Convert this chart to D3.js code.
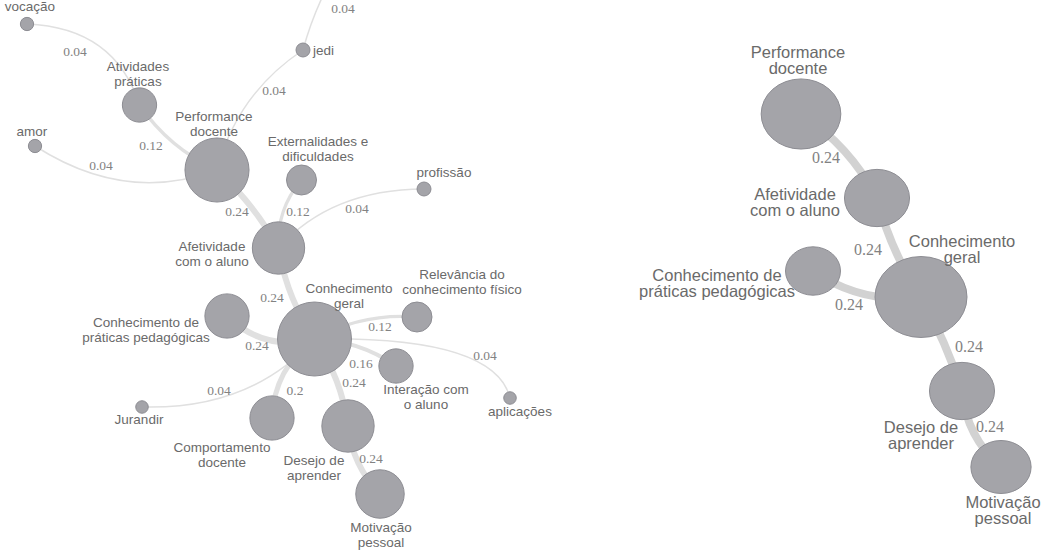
<!DOCTYPE html>
<html>
<head>
<meta charset="utf-8">
<script src="https://cdn.jsdelivr.net/npm/d3@7"></script>
<style>
    body { margin: 0; background: #fff; }
    svg { display: block; }
    .node-label { font-family: "Liberation Sans", Arial, sans-serif; fill: #6a6a6a; }
    .edge-label { font-family: "Liberation Serif", "Times New Roman", serif; fill: #828282; }
</style>
</head>
<body>
<svg id="chart" width="1051" height="553"></svg>
<script>
"use strict";

// Left tree: every word of the corpus
const leftNames = [
    "vocação", "Atividades práticas", "amor", "Performance docente", "jedi", "…",
    "Externalidades e dificuldades", "profissão", "Afetividade com o aluno",
    "Conhecimento geral", "Conhecimento de práticas pedagógicas",
    "Relevância do conhecimento físico", "Interação com o aluno", "aplicações",
    "Jurandir", "Comportamento docente", "Desejo de aprender", "Motivação pessoal"
];
const leftFreq = [0.9, 6, 0.9, 21, 1, 1, 4.6, 1, 14, 28, 10, 4.6, 6, 0.8, 0.8, 10, 14, 12];

const leftSource = [
    "vocação", "Atividades práticas", "amor", "jedi", "…", "Performance docente",
    "Externalidades e dificuldades", "profissão", "Afetividade com o aluno",
    "Conhecimento de práticas pedagógicas", "Relevância do conhecimento físico",
    "Interação com o aluno", "aplicações", "Jurandir", "Comportamento docente",
    "Desejo de aprender", "Motivação pessoal"
];
const leftTarget = [
    "Atividades práticas", "Performance docente", "Performance docente", "Performance docente",
    "jedi", "Afetividade com o aluno", "Afetividade com o aluno", "Afetividade com o aluno",
    "Conhecimento geral", "Conhecimento geral", "Conhecimento geral", "Conhecimento geral",
    "Conhecimento geral", "Conhecimento geral", "Conhecimento geral", "Conhecimento geral",
    "Desejo de aprender"
];
const leftWeight = [0.04, 0.12, 0.04, 0.04, 0.04, 0.24, 0.12, 0.04, 0.24, 0.24, 0.12, 0.16, 0.04, 0.04, 0.2, 0.24, 0.24];

// Right tree: strongest links only
const rightNames = [
    "Performance docente", "Afetividade com o aluno", "Conhecimento geral",
    "Conhecimento de práticas pedagógicas", "Desejo de aprender", "Motivação pessoal"
];
const rightFreq = [21, 14, 28, 10, 14, 12];

const rightSource = [
    "Performance docente", "Afetividade com o aluno", "Conhecimento de práticas pedagógicas",
    "Conhecimento geral", "Desejo de aprender"
];
const rightTarget = [
    "Afetividade com o aluno", "Conhecimento geral", "Conhecimento geral",
    "Desejo de aprender", "Motivação pessoal"
];
const rightWeight = [0.24, 0.24, 0.24, 0.24, 0.24];

// Layout: node centre, label baseline, words on the first label line
// ("…" is the node cut off above the picture, it has no visible label)
const LEFT_LAYOUT = {
    "vocação": { x: 27, y: 24, lx: 30, ly: 11, split: 1 },
    "Atividades práticas": { x: 139.5, y: 105, lx: 138, ly: 71, split: 1 },
    "amor": { x: 35, y: 146, lx: 32, ly: 136, split: 1 },
    "Performance docente": { x: 217, y: 170, lx: 214, ly: 121, split: 1 },
    "jedi": { x: 303, y: 50, lx: 313, ly: 55, split: 1, anchor: "start" },
    "…": { x: 332, y: -22, hidden: true },
    "Externalidades e dificuldades": { x: 301.5, y: 180, lx: 318, ly: 146, split: 2 },
    "profissão": { x: 424, y: 189, lx: 444, ly: 177, split: 1 },
    "Afetividade com o aluno": { x: 278.5, y: 248, lx: 212, ly: 251, split: 1 },
    "Conhecimento geral": { x: 314.5, y: 339, lx: 349, ly: 293, split: 1 },
    "Conhecimento de práticas pedagógicas": { x: 227, y: 316, lx: 146, ly: 327, split: 2 },
    "Relevância do conhecimento físico": { x: 417, y: 317, lx: 462, ly: 279, split: 2 },
    "Interação com o aluno": { x: 396, y: 366, lx: 426, ly: 394, split: 2 },
    "aplicações": { x: 510, y: 398, lx: 520, ly: 416, split: 1 },
    "Jurandir": { x: 142, y: 407, lx: 139, ly: 424, split: 1 },
    "Comportamento docente": { x: 272, y: 418, lx: 222, ly: 452, split: 1 },
    "Desejo de aprender": { x: 348, y: 426, lx: 314, ly: 465, split: 2 },
    "Motivação pessoal": { x: 380, y: 494, lx: 381, ly: 532, split: 1 }
};
// per edge (same order as the data): bend across, skew along, label position
const LEFT_EDGE_LAYOUT = [
    { bend: -0.35, skew: 0.03, lx: 75, ly: 56 },
    { bend: 0.14, skew: 0, lx: 151, ly: 150 },
    { bend: 0.25, skew: 0.03, lx: 101, ly: 170 },
    { bend: 0.19, skew: 0, lx: 274, ly: 95 },
    { bend: 0.06, skew: 0, lx: 343, ly: 13 },
    { bend: -0.08, skew: 0, lx: 237, ly: 216 },
    { bend: 0.2, skew: 0, lx: 298, ly: 216 },
    { bend: 0.22, skew: 0.05, lx: 357, ly: 213 },
    { bend: 0.11, skew: 0, lx: 272, ly: 302 },
    { bend: 0.28, skew: 0, lx: 257, ly: 350 },
    { bend: 0.15, skew: 0, lx: 380, ly: 331 },
    { bend: 0.15, skew: 0, lx: 361, ly: 368 },
    { bend: 0.27, skew: -0.34, lx: 485, ly: 360 },
    { bend: 0.23, skew: 0.04, lx: 219, ly: 395 },
    { bend: -0.24, skew: 0, lx: 295, ly: 395 },
    { bend: 0.12, skew: 0, lx: 354, ly: 387 },
    { bend: -0.17, skew: 0, lx: 371, ly: 463 }
];

const RIGHT_LAYOUT = {
    "Performance docente": { x: 801, y: 114, lx: 798, ly: 58, split: 1 },
    "Afetividade com o aluno": { x: 877, y: 198, lx: 795, ly: 200, split: 1 },
    "Conhecimento geral": { x: 921, y: 297, lx: 962, ly: 247, split: 1 },
    "Conhecimento de práticas pedagógicas": { x: 813, y: 271, lx: 717, ly: 281, split: 2 },
    "Desejo de aprender": { x: 962, y: 391, lx: 921, ly: 433, split: 2 },
    "Motivação pessoal": { x: 1001, y: 467, lx: 1003, ly: 508, split: 1 }
};
const RIGHT_EDGE_LAYOUT = [
    { bend: -0.13, skew: 0, lx: 826, ly: 163 },
    { bend: 0.085, skew: 0, lx: 868, ly: 255 },
    { bend: 0.19, skew: 0, lx: 849, ly: 310 },
    { bend: -0.05, skew: 0, lx: 969, ly: 352 },
    { bend: 0.2, skew: 0, lx: 990, ly: 432 }
];

const svg = d3.select("#chart");

renderTree(svg.append("g").classed("left-tree", true), {
    names: leftNames, freq: leftFreq,
    source: leftSource, target: leftTarget, weight: leftWeight,
    layout: LEFT_LAYOUT, edgeLayout: LEFT_EDGE_LAYOUT,
    maxRadius: 37, aspect: 1,
    width: d3.scaleLinear().domain([0.04, 0.24]).range([1.5, 6]),
    edgeColor: "#e0e0e0",
    labelSize: 13.5, lineHeight: 15, edgeLabelSize: 13.5
});

renderTree(svg.append("g").classed("right-tree", true), {
    names: rightNames, freq: rightFreq,
    source: rightSource, target: rightTarget, weight: rightWeight,
    layout: RIGHT_LAYOUT, edgeLayout: RIGHT_EDGE_LAYOUT,
    maxRadius: 46, aspect: 0.88,
    width: d3.scaleLinear().domain([0, 0.24]).range([0, 8]),
    edgeColor: "#d2d2d2",
    labelSize: 16.5, lineHeight: 16, edgeLabelSize: 16
});

function renderTree(group, opts) {
    const radius = d3.scaleSqrt().domain([0, d3.max(opts.freq)]).range([0, opts.maxRadius]);

    const nodes = opts.names.map((name, i) => Object.assign({ name, freq: opts.freq[i] }, opts.layout[name]));
    const byName = new Map(nodes.map(n => [n.name, n]));

    const edges = opts.source.map((s, i) => ({
        s: byName.get(s),
        t: byName.get(opts.target[i]),
        weight: opts.weight[i],
        geo: opts.edgeLayout[i]
    }));

    // thin links under thick ones
    const sorted = edges.slice().sort((a, b) => a.weight - b.weight);

    group.append("g")
        .selectAll("path")
        .data(sorted)
        .join("path")
        .attr("d", e => edgePath(e.s, e.t, e.geo.bend, e.geo.skew))
        .attr("fill", "none")
        .attr("stroke", opts.edgeColor)
        .attr("stroke-linecap", "round")
        .attr("stroke-width", e => opts.width(e.weight));

    group.append("g")
        .selectAll("text")
        .data(edges)
        .join("text")
        .classed("edge-label", true)
        .attr("x", e => e.geo.lx)
        .attr("y", e => e.geo.ly)
        .attr("text-anchor", "middle")
        .style("font-size", opts.edgeLabelSize + "px")
        .text(e => String(e.weight));

    const shown = nodes.filter(n => !n.hidden);

    group.append("g")
        .selectAll("ellipse")
        .data(shown)
        .join("ellipse")
        .attr("cx", n => n.x)
        .attr("cy", n => n.y)
        .attr("rx", n => radius(n.freq))
        .attr("ry", n => radius(n.freq) * opts.aspect)
        .attr("fill", "#a4a4a9")
        .attr("stroke", "#8d8d93")
        .attr("stroke-width", 1);

    const labels = group.append("g")
        .selectAll("text")
        .data(shown)
        .join("text")
        .classed("node-label", true)
        .attr("text-anchor", n => n.anchor || "middle")
        .style("font-size", opts.labelSize + "px");

    labels.each(function (n) {
        const words = n.name.split(" ");
        const lines = [words.slice(0, n.split).join(" "), words.slice(n.split).join(" ")]
            .filter(l => l.length);
        d3.select(this)
            .selectAll("tspan")
            .data(lines)
            .join("tspan")
            .attr("x", n.lx)
            .attr("y", (_, i) => n.ly + i * opts.lineHeight)
            .text(l => l);
    });
}

function edgePath(s, t, bend, skew) {
    const dx = t.x - s.x;
    const dy = t.y - s.y;
    const len = Math.hypot(dx, dy);
    const ux = dx / len, uy = dy / len;
    const nx = -uy, ny = ux;
    const cx = (s.x + t.x) / 2 + nx * bend * len + ux * skew * len;
    const cy = (s.y + t.y) / 2 + ny * bend * len + uy * skew * len;
    const p = d3.path();
    p.moveTo(s.x, s.y);
    p.quadraticCurveTo(cx, cy, t.x, t.y);
    return p.toString();
}
</script>
</body>
</html>
